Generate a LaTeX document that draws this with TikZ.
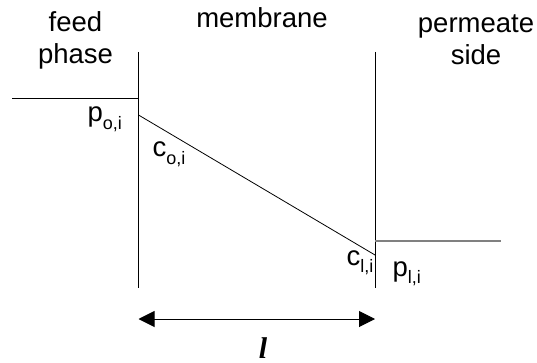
\documentclass[tikz,border=0pt]{standalone}
\usepackage{fontspec}
\setmainfont{Liberation Sans}
\newfontfamily\lenfont{Liberation Serif}
\usetikzlibrary{arrows.meta}

% concentration / pressure label with lowered index
\newcommand{\conc}[2]{#1\raisebox{-0.5ex}{\fontsize{18}{18}\selectfont #2}}

\begin{document}
\begin{tikzpicture}[x=1pt, y=-1pt, >={Triangle[length=16pt,width=16pt]},
    line width=1pt,
    every node/.style={inner sep=0pt, font=\fontsize{27.5}{32}\selectfont}]
    \useasboundingbox (0,0) rectangle (537,363);

    % Membrane walls
    \coordinate (LT) at (138.5, 52);
    \coordinate (LB) at (138.5, 288);
    \coordinate (RT) at (375, 52);
    \coordinate (RB) at (375, 288);
    \draw (LT) -- (LB);
    \draw (RT) -- (RB);

    % Feed level
    \coordinate (F0) at (12, 99);
    \coordinate (F1) at (138.5, 99);
    \draw (F0) -- (F1);

    % Profile through the membrane
    \coordinate (C0) at (138.5, 115);
    \coordinate (C1) at (375, 255);
    \draw[line width=0.8pt] (C0) -- (C1);

    % Permeate level
    \coordinate (P0) at (375, 241);
    \coordinate (P1) at (501, 241);
    \draw[gray, line width=1.6pt] (P0) -- (P1);

    % Headings
    \node[align=center] (feed) at (75.5, 40) {feed\\phase};
    \node[anchor=base] (memb) at (262, 28) {membrane};
    \node[align=center] (perm) at (476, 40) {permeate\\side};

    % Labels
    \node[anchor=base west] (po) at (87, 122) {\conc{p}{o,i}};
    \node[anchor=base west] (co) at (152, 157) {\conc{c}{o,i}};
    \node[anchor=base west] (cl) at (346, 265) {\conc{c}{l,i}};
    \node[anchor=base west] (pl) at (392, 276) {\conc{p}{l,i}};

    % Thickness
    \coordinate (A0) at (138.5, 319);
    \coordinate (A1) at (375, 319);
    \draw[<->] (A0) -- (A1);
    \node[anchor=base, font=\fontsize{30}{30}\selectfont] (len) at (263, 358) {\lenfont\bfseries\itshape l};
\end{tikzpicture}
\end{document}
